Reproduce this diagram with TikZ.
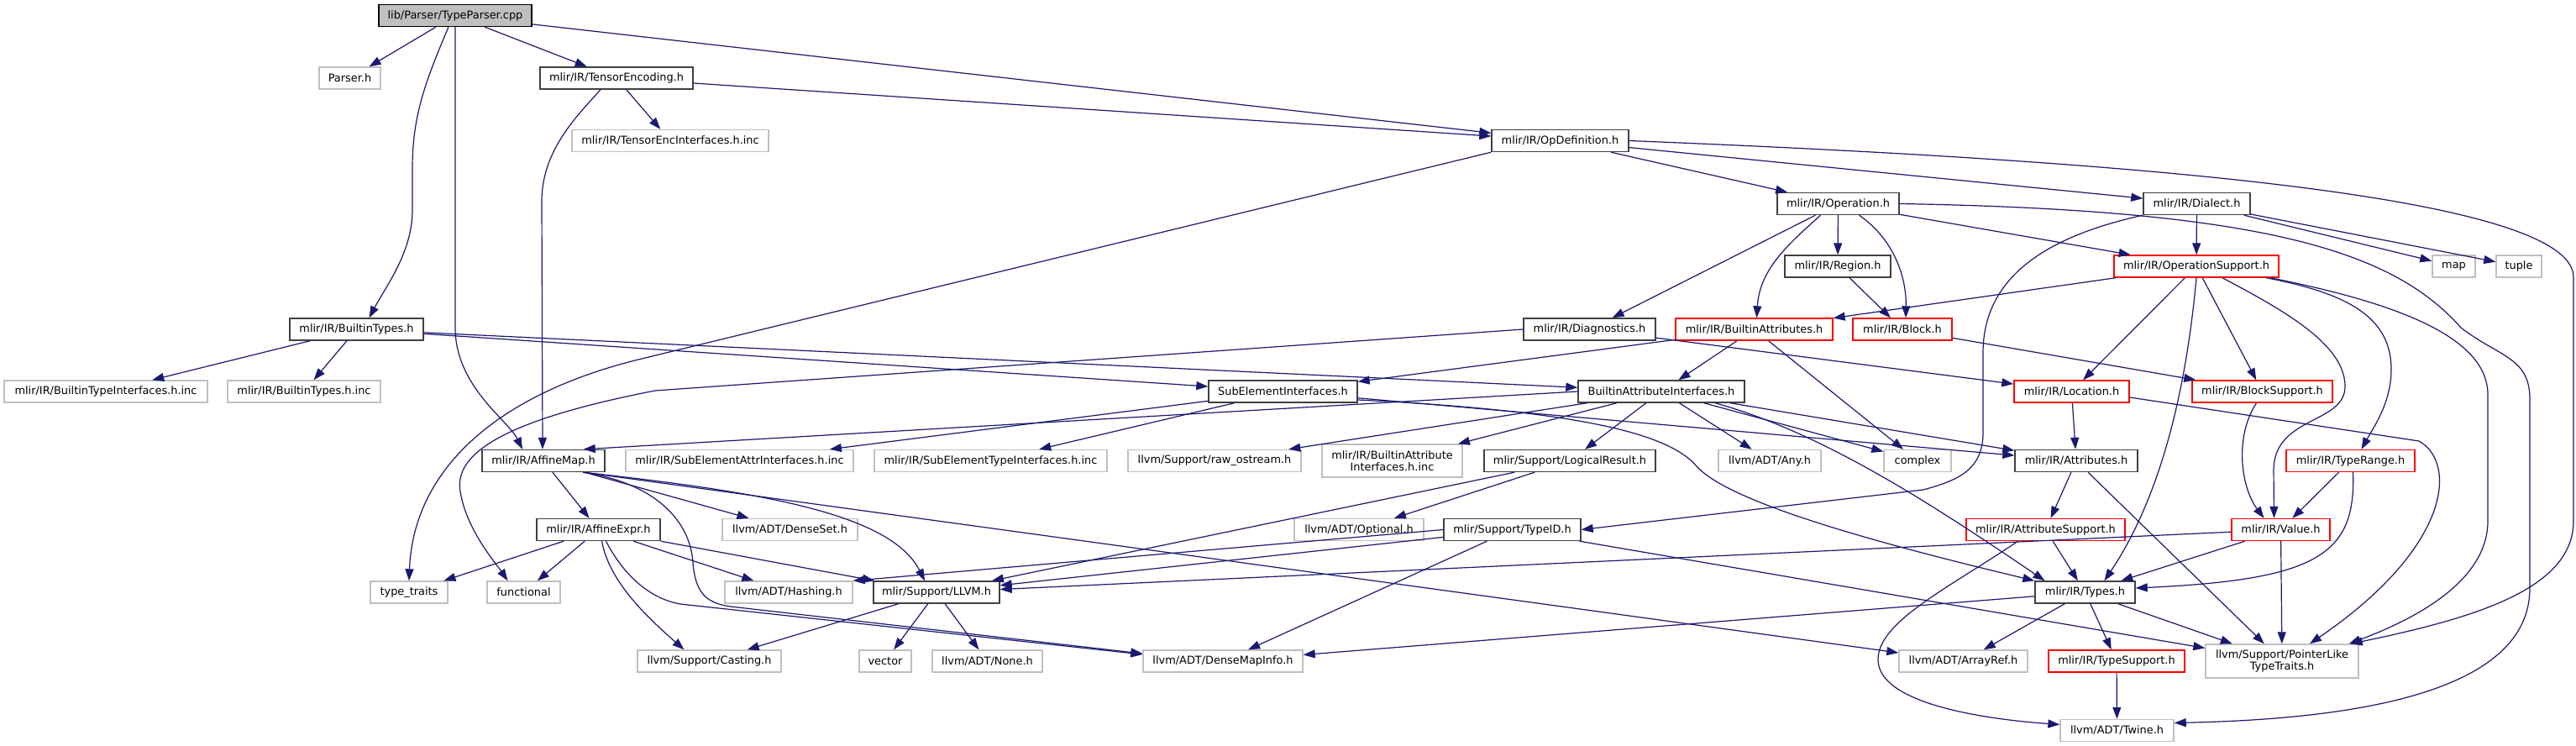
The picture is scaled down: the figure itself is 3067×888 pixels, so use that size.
\documentclass[tikz,border=0pt]{standalone}
\usepackage{fontspec}
\setmainfont{DejaVu Sans}
\usetikzlibrary{arrows.meta}
\definecolor{edgec}{HTML}{191970}
\definecolor{blkc}{HTML}{404040}
\definecolor{grayc}{HTML}{BFBFBF}
\definecolor{redc}{HTML}{FF0000}
\definecolor{rootfill}{HTML}{BFBFBF}
\newcommand\dgfont{\fontsize{12.9}{14.5}\selectfont}
\begin{document}
\begin{tikzpicture}[x=1pt,y=-1pt,
  nd/.style={rectangle, inner xsep=1pt, inner ysep=1pt, minimum height=26pt, line width=1.4pt, font=\dgfont, align=center, fill=white},
  bk/.style={nd, draw=blkc},
  gy/.style={nd, draw=grayc},
  rd/.style={nd, draw=redc},
  rt/.style={nd, draw=black, fill=rootfill},
  wd/.style={minimum width=#1pt},
  e/.style={draw=edgec, line width=1.2pt, -{Triangle[length=14pt,width=10pt]}}
]
\useasboundingbox[fill=white] (0,0) rectangle (3067,888);
% nodes
\node[rt, wd=182] (tp) at (542,18.5) {lib/Parser/TypeParser.cpp};
\node[gy, wd=73] (parser) at (416.5,93) {Parser.h};
\node[bk, wd=182] (te) at (734,93) {mlir/IR/TensorEncoding.h};
\node[gy, wd=234] (tei) at (798,167.5) {mlir/IR/TensorEncInterfaces.h.inc};
\node[bk, wd=163] (od) at (1857.5,167.5) {mlir/IR/OpDefinition.h};
\node[bk, wd=145] (op) at (2188.5,242.5) {mlir/IR/Operation.h};
\node[bk, wd=127] (dl) at (2615.5,242.5) {mlir/IR/Dialect.h};
\node[bk, wd=126] (reg) at (2188,317) {mlir/IR/Region.h};
\node[rd, wd=196] (os) at (2615,317) {mlir/IR/OperationSupport.h};
\node[gy, wd=51] (map) at (2921.5,317) {map};
\node[gy, wd=54] (tup) at (2999,317) {tuple};
\node[bk, wd=159] (bt) at (424.5,392) {mlir/IR/BuiltinTypes.h};
\node[bk, wd=157] (diag) at (1892.5,392) {mlir/IR/Diagnostics.h};
\node[rd, wd=187] (ba) at (2088.5,392) {mlir/IR/BuiltinAttributes.h};
\node[rd, wd=118] (blk) at (2265,392) {mlir/IR/Block.h};
\node[gy, wd=242] (bti) at (126,466) {mlir/IR/BuiltinTypeInterfaces.h.inc};
\node[gy, wd=182] (btinc) at (362,466) {mlir/IR/BuiltinTypes.h.inc};
\node[bk, wd=177] (sei) at (1527.5,466) {SubElementInterfaces.h};
\node[bk, wd=198] (bai) at (1978,466) {BuiltinAttributeInterfaces.h};
\node[rd, wd=137] (loc) at (2466.5,466) {mlir/IR/Location.h};
\node[rd, wd=167] (bs) at (2693.5,466) {mlir/IR/BlockSupport.h};
\node[bk, wd=146] (am) at (647,548.5) {mlir/IR/AffineMap.h};
\node[gy, wd=271] (seai) at (880.5,548.5) {mlir/IR/SubElementAttrInterfaces.h.inc};
\node[gy, wd=277] (seti) at (1179.5,548.5) {mlir/IR/SubElementTypeInterfaces.h.inc};
\node[gy, wd=206] (raw) at (1446,548.5) {llvm/Support/raw\_ostream.h};
\node[gy, wd=167, minimum height=39pt] (baiinc) at (1657.5,548.5) {mlir/IR/BuiltinAttribute\\Interfaces.h.inc};
\node[bk, wd=204] (lr) at (1869,548.5) {mlir/Support/LogicalResult.h};
\node[gy, wd=122] (any) at (2107,548.5) {llvm/ADT/Any.h};
\node[gy, wd=80] (cx) at (2283,548.5) {complex};
\node[bk, wd=146] (att) at (2472,548.5) {mlir/IR/Attributes.h};
\node[rd, wd=153] (tr) at (2798.5,548.5) {mlir/IR/TypeRange.h};
\node[bk, wd=147] (ae) at (712.5,630.5) {mlir/IR/AffineExpr.h};
\node[gy, wd=161] (ds) at (940.5,630.5) {llvm/ADT/DenseSet.h};
\node[gy, wd=154] (opt) at (1618,630.5) {llvm/ADT/Optional.h};
\node[bk, wd=163] (tid) at (1800.5,630.5) {mlir/Support/TypeID.h};
\node[rd, wd=189] (asup) at (2435.5,630.5) {mlir/IR/AttributeSupport.h};
\node[rd, wd=117] (val) at (2715.5,630.5) {mlir/IR/Value.h};
\node[gy, wd=92] (tt) at (487,705) {type\_traits};
\node[gy, wd=87] (fn) at (623.5,705) {functional};
\node[gy, wd=152] (hash) at (939,705) {llvm/ADT/Hashing.h};
\node[bk, wd=150] (llvm) at (1115,705) {mlir/Support/LLVM.h};
\node[bk, wd=119] (ty) at (2482.5,705) {mlir/IR/Types.h};
\node[gy, wd=171] (cast) at (844.5,787) {llvm/Support/Casting.h};
\node[gy, wd=62] (vec) at (1054,787) {vector};
\node[gy, wd=131] (none) at (1175.5,787) {llvm/ADT/None.h};
\node[gy, wd=190] (dmi) at (1456,787) {llvm/ADT/DenseMapInfo.h};
\node[gy, wd=153] (ar) at (2337.5,787) {llvm/ADT/ArrayRef.h};
\node[rd, wd=162] (tsup) at (2520,787) {mlir/IR/TypeSupport.h};
\node[gy, wd=182, minimum height=40pt] (pl) at (2717,787) {llvm/Support/PointerLike\\TypeTraits.h};
\node[gy, wd=135] (tw) at (2520.5,869.5) {llvm/ADT/Twine.h};
% edges
\draw[e] (tp) -- (parser);
\draw[e] (tp) -- (te);
\draw[e] (tp) -- (od);
\draw[e] ([xshift=-8pt]tp.south) .. controls (505,100) and (491,140) .. (491,200) -- (491,250) .. controls (491,300) and (460,340) .. ([xshift=15pt]bt.north);
\draw[e] (tp.south) -- (542,390) .. controls (542,460) and (605,500) .. ([xshift=-25pt]am.north);
\draw[e] (te) -- (tei);
\draw[e] (te) -- (od);
\draw[e] ([xshift=-19pt]te.south) .. controls (685,140) and (645,180) .. (645,240) -- ([xshift=-1pt]am.north);
\draw[e] (bt) -- (bti);
\draw[e] (bt) -- (btinc);
\draw[e] (bt) -- (sei);
\draw[e] (bt) -- (bai);
\draw[e] (od) -- (op);
\draw[e] (od) -- (dl);
\draw[e] (od.south west) -- (760,428) .. controls (590,470) and (492,560) .. (tt.north);
\draw[e] (od.east) .. controls (2500,190) and (3064,230) .. (3064,330) -- (3064,620) .. controls (3064,700) and (2950,735) .. ([xshift=-10pt]pl.north east);
\draw[e] (op) -- (reg);
\draw[e] ([xshift=25pt]op.south) .. controls (2255,285) and (2270,330) .. ([xshift=4pt]blk.north);
\draw[e] (reg) -- (blk);
\draw[e] ([xshift=-21pt]op.south) .. controls (2130,290) and (2095,320) .. ([xshift=3pt]ba.north);
\draw[e] (op) -- (diag);
\draw[e] (op) -- (os);
\draw[e] (op.east) .. controls (2700,250) and (2850,300) .. (2930,390) .. controls (2975,425) and (3012,425) .. (3012,475) -- (3012,700) .. controls (3012,810) and (2850,855) .. ([yshift=9pt]tw.east);
\draw[e] (dl) -- (os);
\draw[e] (dl) -- (map);
\draw[e] (dl) -- (tup);
\draw[e] (dl.south west) .. controls (2420,285) and (2361,340) .. (2361,420) -- (2361,515) .. controls (2361,560) and (2330,572) .. (2290,583) -- (tid.east);
\draw[e] (os) -- (ba);
\draw[e] (os) -- (loc);
\draw[e] (os.south) .. controls (2605,440) and (2580,580) .. ([xshift=23pt]ty.north);
\draw[e] (os) -- (bs);
\draw[e] ([xshift=31pt]os.south) .. controls (2720,370) and (2792,410) .. (2792,460) .. controls (2792,505) and (2707,495) .. (2707,560) -- ([xshift=-8pt]val.north);
\draw[e] ([xshift=83pt]os.south) .. controls (2800,350) and (2847,380) .. (2847,440) .. controls (2847,480) and (2825,510) .. ([xshift=13pt]tr.north);
\draw[e] ([xshift=88pt]os.south) .. controls (2850,360) and (2962,400) .. (2962,470) -- (2962,620) .. controls (2962,690) and (2880,735) .. ([xshift=-12pt]pl.north east);
\draw[e] (blk) -- (bs);
\draw[e] (diag.west) -- (780,465) .. controls (600,500) and (540,540) .. (548,585) .. controls (555,630) and (590,670) .. ([xshift=-19pt]fn.north);
\draw[e] (diag) -- (loc);
\draw[e] (ba) -- (bai);
\draw[e] (ba) -- (sei);
\draw[e] (ba) -- (cx);
\draw[e] (loc) -- (att);
\draw[e] ([yshift=-7pt]loc.east) -- (2880,525) .. controls (2925,550) and (2920,650) .. ([xshift=33pt]pl.north);
\draw[e] ([xshift=-7pt]bs.south) .. controls (2660,520) and (2668,580) .. ([xshift=-20pt]val.north);
\draw[e] (tr) -- (val);
\draw[e] ([xshift=3pt]tr.south) .. controls (2805,660) and (2760,690) .. ([yshift=5pt]ty.east);
\draw[e] (val) -- (ty);
\draw[e] (val) -- (pl);
\draw[e] (val) -- (llvm);
\draw[e] (att) -- (asup);
\draw[e] (att) -- (pl);
\draw[e] (asup) -- (ty);
\draw[e] ([xshift=-33pt]asup.south) .. controls (2320,700) and (2236,740) .. (2236,785) .. controls (2236,835) and (2350,855) .. ([yshift=7pt]tw.west);
\draw[e] (ty) -- (tsup);
\draw[e] (ty) -- (ar);
\draw[e] (ty) -- (pl);
\draw[e] (ty) -- (dmi);
\draw[e] (tsup) -- (tw);
\draw[e] (tid) -- (llvm);
\draw[e] (tid.west) -- (hash.north east);
\draw[e] (tid) -- (dmi);
\draw[e] (tid) -- (pl);
\draw[e] (lr) -- (llvm);
\draw[e] (lr) -- (opt);
\draw[e] (bai.west) -- ([xshift=-26pt]am.north east);
\draw[e] (bai) -- (raw);
\draw[e] (bai) -- (baiinc);
\draw[e] (bai) -- (lr);
\draw[e] (bai) -- (any);
\draw[e] (bai) -- (cx);
\draw[e] (bai) -- (att);
\draw[e] ([xshift=64pt]bai.south) .. controls (2170,515) and (2300,600) .. ([xshift=-48pt]ty.north);
\draw[e] (sei) -- (seai);
\draw[e] (sei) -- (seti);
\draw[e] (sei) -- (att);
\draw[e] ([yshift=-10pt]sei.east) .. controls (1900,490) and (1990,520) .. (2020,555) .. controls (2060,600) and (2250,650) .. (ty.north west);
\draw[e] (am) -- (ae);
\draw[e] (am) -- (ds);
\draw[e] ([xshift=47pt]am.south) .. controls (900,585) and (1060,610) .. ([xshift=-14pt]llvm.north);
\draw[e] ([xshift=47pt]am.south) .. controls (780,575) and (822,620) .. (825,670) .. controls (828,705) and (840,718) .. (870,722) -- ([yshift=9pt]dmi.west);
\draw[e] ([xshift=-26pt]am.south east) -- ([yshift=10pt]ar.west);
\draw[e] (ae) -- (tt);
\draw[e] (ae) -- (fn);
\draw[e] ([xshift=4pt]ae.south) .. controls (725,690) and (765,730) .. ([xshift=-30pt]cast.north);
\draw[e] (ae) -- (hash);
\draw[e] (ae) -- (llvm);
\draw[e] ([xshift=9pt]ae.south) .. controls (740,680) and (770,712) .. (810,719) -- ([yshift=8pt]dmi.west);
\draw[e] (llvm) -- (cast);
\draw[e] (llvm) -- (vec);
\draw[e] (llvm) -- (none);
\end{tikzpicture}
\end{document}
